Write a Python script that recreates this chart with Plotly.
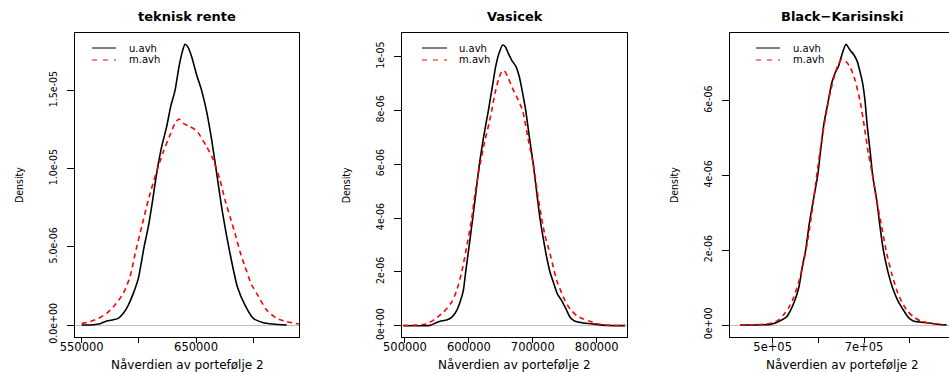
import plotly.graph_objects as go

W, H = 949, 372
UNIT = 1e-6  # density values below are given in units of 1e-6

# ---------------- Panel 1: teknisk rente ----------------
tr_u_x = [550000, 560200, 566030, 571860, 577690, 582070, 586440, 590810, 595180, 599560,
          604510, 608300, 612090, 615590, 619960, 624330, 627830, 631620, 635120, 638030,
          640370, 642700, 646200, 650570, 654940, 659310, 663690, 668060, 673300, 679720,
          686130, 692840, 700120, 708870, 717610, 729270]
tr_u_y = [0.0, 0.02, 0.085, 0.256, 0.341, 0.427, 0.747, 1.28, 2.027, 2.987,
          4.972, 6.294, 8.001, 9.708, 11.415, 12.696, 13.976, 15.0, 16.536, 17.496,
          17.966, 17.816, 17.176, 16.003, 15.0, 13.656, 11.842, 9.708, 7.148, 4.587,
          2.454, 1.28, 0.427, 0.149, 0.064, 0.0]
tr_m_x = [550000, 557290, 564580, 571860, 579150, 586440, 592270, 597510, 602470, 608300,
          615000, 621420, 627250, 631620, 635120, 638910, 644740, 650570, 654940, 659310,
          665140, 670970, 675350, 679720, 684090, 688460, 692840, 698670, 703040, 711780,
          720530, 729270, 740060]
tr_m_y = [0.107, 0.213, 0.427, 0.747, 1.28, 2.027, 3.094, 4.801, 6.294, 8.001,
          9.708, 11.095, 12.162, 12.909, 13.186, 12.909, 12.696, 12.439, 11.949, 11.415,
          10.562, 9.282, 8.001, 6.935, 5.868, 4.694, 3.734, 2.56, 2.027, 0.96,
          0.427, 0.213, 0.064]

# ---------------- Panel 2: Vasicek ----------------
va_u_x = [497390, 539130, 546950, 554780, 565210, 573040, 580860, 586080, 591300, 594950,
          600170, 605910, 611120, 616340, 622600, 630430, 636690, 641900, 647120, 652860,
          657030, 661730, 666940, 673730, 678940, 684160, 688860, 694600, 700850, 706070,
          711290, 716510, 721720, 726940, 732160, 738420, 745200, 751980, 758240, 766070,
          779110, 794760, 815630, 844320]
va_u_y = [0.0, 0.012, 0.087, 0.161, 0.211, 0.311, 0.559, 0.87, 1.304, 1.988,
          2.919, 3.975, 4.969, 5.987, 6.956, 7.987, 8.882, 9.627, 10.124, 10.434,
          10.372, 10.124, 9.875, 9.627, 9.254, 8.633, 8.012, 7.018, 5.987, 4.969,
          3.975, 3.23, 2.547, 1.988, 1.615, 1.18, 0.932, 0.621, 0.311, 0.161,
          0.099, 0.062, 0.012, 0.0]
va_m_x = [497390, 518260, 533910, 546950, 559990, 573040, 580860, 588690, 596510, 604340,
          609560, 617380, 625210, 631470, 635640, 640860, 646080, 651290, 655470, 661730,
          669550, 677380, 684160, 693030, 700850, 707110, 713900, 719110, 726940, 732160,
          737380, 743640, 750420, 758240, 768680, 779110, 789540, 802590, 820840, 844320]
va_m_y = [0.0, 0.025, 0.062, 0.248, 0.497, 0.87, 1.304, 1.988, 2.919, 3.975,
          4.907, 5.987, 6.894, 7.515, 7.987, 8.633, 9.13, 9.441, 9.478, 9.192,
          8.758, 8.385, 7.987, 6.894, 5.987, 4.969, 3.975, 3.354, 2.671, 2.174,
          1.677, 1.304, 0.932, 0.621, 0.373, 0.248, 0.161, 0.062, 0.012, 0.0]

# ---------------- Panel 3: Black-Karisinski ----------------
bk_u_x = [428470, 494160, 508760, 519710, 530660, 539410, 548900, 557660, 564960, 572260,
          580290, 589050, 598540, 605110, 612410, 621890, 629190, 636490, 643790, 652550,
          660580, 669330, 678090, 685390, 691230, 697070, 702180, 707290, 713130, 718970,
          727730, 735030, 742330, 753280, 764230, 775180, 786130, 797070, 808020, 822620,
          837220, 859110, 881010]
bk_u_y = [0.0, 0.018, 0.071, 0.134, 0.223, 0.401, 0.669, 1.025, 1.56, 2.006,
          2.719, 3.343, 3.994, 4.681, 5.394, 6.0, 6.464, 6.731, 6.909, 7.266,
          7.507, 7.355, 7.221, 7.043, 6.776, 6.464, 6.0, 5.305, 4.681, 3.994,
          3.343, 2.63, 2.006, 1.382, 0.936, 0.624, 0.401, 0.205, 0.107, 0.08,
          0.062, 0.027, 0.0]
bk_m_x = [428470, 464970, 486860, 501460, 512410, 523360, 534310, 545250, 556200, 567150,
          578100, 587590, 596350, 605110, 614590, 624080, 632840, 641600, 651090, 660580,
          669330, 680280, 691230, 700720, 709480, 718970, 727730, 738680, 749630, 760580,
          771520, 782470, 793420, 808020, 822620, 844520, 873710]
bk_m_y = [0.0, 0.009, 0.027, 0.062, 0.134, 0.267, 0.446, 0.713, 1.114, 1.649,
          2.363, 3.165, 3.994, 4.77, 5.483, 6.107, 6.553, 6.909, 7.105, 7.043,
          6.909, 6.553, 6.0, 5.305, 4.591, 3.994, 3.343, 2.63, 1.917, 1.382,
          0.936, 0.624, 0.401, 0.223, 0.116, 0.045, 0.0]

# ---------------- Labels / ticks ----------------
titles = ["teknisk rente", "Vasicek", "Black\u2212Karisinski"]
x_title = "N\u00e5verdien av portef\u00f8lje 2"
y_title = "Density"
legend_labels = ["u.avh", "m.avh"]

x_tickvals = [[550000, 600000, 650000, 700000],
              [500000, 600000, 700000, 800000],
              [500000, 600000, 700000, 800000]]
x_ticktext = [["550000", "", "650000", ""],
              ["500000", "600000", "700000", "800000"],
              ["5e+05", "", "7e+05", ""]]
y_tickvals = [[0, 5e-6, 1e-5, 1.5e-5],
              [0, 2e-6, 4e-6, 6e-6, 8e-6, 1e-5],
              [0, 2e-6, 4e-6, 6e-6]]
y_ticktext = [["0.0e+00", "5.0e-06", "1.0e-05", "1.5e-05"],
              ["0e+00", "2e-06", "4e-06", "6e-06", "8e-06", "1e-05"],
              ["0e+00", "2e-06", "4e-06", "6e-06"]]

# ---------------- Layout geometry (pixels) ----------------
box_left = [75, 402.3, 730]
box_right = [299, 626.7, 949]
box_top, box_bottom = 33.3, 336.7
x_ranges = [[544170, 740060], [495830, 846930], [406570, 886120]]
y_ranges = [[-0.747e-6, 18.67e-6], [-0.410e-6, 10.869e-6], [-0.312e-6, 7.801e-6]]
centers = [187, 514.5, 842.3]
leg_line = [(92, 116), (422, 447), (756, 780)]
leg_text_x = [128, 458, 792]
leg_rows = [48, 60]

series = [
    (tr_u_x, tr_u_y, tr_m_x, tr_m_y),
    (va_u_x, va_u_y, va_m_x, va_m_y),
    (bk_u_x, bk_u_y, bk_m_x, bk_m_y),
]

HFONT = "DejaVu Sans, Liberation Sans, sans-serif"
NFONT = "Liberation Sans Narrow, DejaVu Sans Condensed, Arial Narrow, sans-serif"

def px(x):
    return x / W

def py(y):
    return 1 - y / H

fig = go.Figure()
annotations = []
shapes = []

for i, (ux, uy, mx, my) in enumerate(series):
    xa = "x" if i == 0 else f"x{i+1}"
    ya = "y" if i == 0 else f"y{i+1}"
    fig.add_trace(go.Scatter(x=ux, y=[v * UNIT for v in uy], mode="lines",
                             line=dict(color="black", width=1.6, shape="spline", smoothing=0.6),
                             xaxis=xa, yaxis=ya, showlegend=False, name=legend_labels[0]))
    fig.add_trace(go.Scatter(x=mx, y=[v * UNIT for v in my], mode="lines",
                             line=dict(color="red", width=1.6, dash="5px,4px", shape="spline", smoothing=0.6),
                             xaxis=xa, yaxis=ya, showlegend=False, name=legend_labels[1]))

    xkey = "xaxis" if i == 0 else f"xaxis{i+1}"
    ykey = "yaxis" if i == 0 else f"yaxis{i+1}"
    fig.update_layout({
        xkey: dict(domain=[px(box_left[i]), min(1.0, px(box_right[i]))],
                   range=x_ranges[i], anchor=ya,
                   showline=True, linecolor="black", linewidth=1, mirror=True,
                   ticks="outside", ticklen=5, tickcolor="black", tickwidth=1,
                   tickvals=x_tickvals[i], ticktext=x_ticktext[i],
                   ticklabelstandoff=-6,
                   tickfont=dict(family=HFONT, size=11.5, color="black"),
                   showgrid=False, zeroline=False, automargin=False,
                   fixedrange=True),
        ykey: dict(domain=[py(box_bottom), py(box_top)],
                   range=y_ranges[i], anchor=xa,
                   showline=True, linecolor="black", linewidth=1,
                   mirror=(i < 2),
                   ticks="outside", ticklen=7, tickcolor="black", tickwidth=1,
                   tickvals=y_tickvals[i], ticktext=y_ticktext[i], tickangle=-90,
                   ticklabelstandoff=6,
                   tickfont=dict(family=NFONT, size=10.5, color="black"),
                   showgrid=False, zeroline=True, zerolinecolor="#BEBEBE",
                   zerolinewidth=1, automargin=False, fixedrange=True),
    })

    # panel title
    annotations.append(dict(text=f"<b>{titles[i]}</b>", x=px(centers[i]), y=py(17),
                            xref="paper", yref="paper", xanchor="center", yanchor="middle",
                            showarrow=False, font=dict(family=HFONT, size=13, color="black")))
    # x title
    annotations.append(dict(text=x_title, x=px(centers[i]), y=py(365),
                            xref="paper", yref="paper", xanchor="center", yanchor="middle",
                            showarrow=False, font=dict(family=HFONT, size=12, color="black")))
    # y title
    annotations.append(dict(text=y_title, x=px(box_left[i] - 56), y=py(185),
                            xref="paper", yref="paper", xanchor="center", yanchor="middle",
                            textangle=-90, showarrow=False,
                            font=dict(family=NFONT, size=10.5, color="black")))
    # legend
    x0, x1 = leg_line[i]
    shapes.append(dict(type="line", xref="paper", yref="paper",
                       x0=px(x0), x1=px(x1), y0=py(leg_rows[0]), y1=py(leg_rows[0]),
                       line=dict(color="black", width=1)))
    shapes.append(dict(type="line", xref="paper", yref="paper",
                       x0=px(x0), x1=px(x1), y0=py(leg_rows[1]), y1=py(leg_rows[1]),
                       line=dict(color="red", width=1, dash="5px,6px")))
    for j, yy in enumerate(leg_rows):
        annotations.append(dict(text=legend_labels[j], x=px(leg_text_x[i]), y=py(yy),
                                xref="paper", yref="paper", xanchor="left", yanchor="middle",
                                showarrow=False, borderpad=0,
                                font=dict(family=HFONT, size=10, color="black")))

fig.update_layout(width=W, height=H, autosize=False,
                  margin=dict(l=0, r=0, t=0, b=0),
                  paper_bgcolor="white", plot_bgcolor="white",
                  annotations=annotations, shapes=shapes, showlegend=False)

fig.write_html("out.html")
